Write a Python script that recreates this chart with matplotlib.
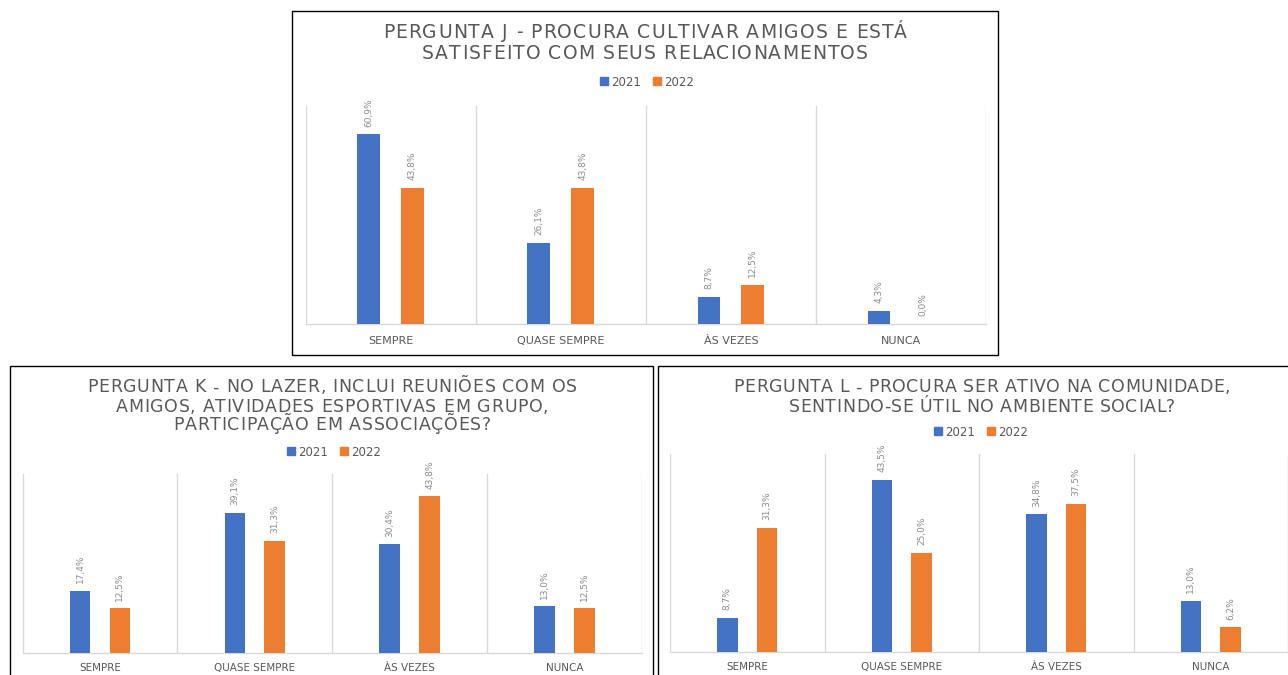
import numpy as np
import matplotlib
matplotlib.use("Agg")
import matplotlib.pyplot as plt
from matplotlib.patches import Rectangle, Patch
from matplotlib.font_manager import FontProperties

plt.rcParams['font.family'] = ['DejaVu Sans']

categories = ["SEMPRE", "QUASE SEMPRE", "ÀS VEZES", "NUNCA"]
series_names = ["2021", "2022"]

j_2021 = [60.9, 26.1, 8.7, 4.3]
j_2022 = [43.8, 43.8, 12.5, 0.0]

k_2021 = [17.4, 39.1, 30.4, 13.0]
k_2022 = [12.5, 31.3, 43.8, 12.5]

l_2021 = [8.7, 43.5, 34.8, 13.0]
l_2022 = [31.3, 25.0, 37.5, 6.2]

title_j = ["PERGUNTA J - PROCURA CULTIVAR AMIGOS E ESTÁ",
           "SATISFEITO COM SEUS RELACIONAMENTOS"]
title_k = ["PERGUNTA K - NO LAZER, INCLUI REUNIÕES COM OS",
           "AMIGOS, ATIVIDADES ESPORTIVAS EM GRUPO,",
           "PARTICIPAÇÃO EM ASSOCIAÇÕES?"]
title_l = ["PERGUNTA L - PROCURA SER ATIVO NA COMUNIDADE,",
           "SENTINDO-SE ÚTIL NO AMBIENTE SOCIAL?"]

BLUE = "#4472C4"
ORANGE = "#ED7D31"
TXT = "#595959"
LBL = "#8c8c8c"
GRID = "#d9d9d9"

W, H = 1288, 675
fig = plt.figure(figsize=(W / 100, H / 100), dpi=100)
renderer = fig.canvas.get_renderer()


def px_axes(x0, y0, x1, y1):
    return fig.add_axes([x0 / W, 1 - y1 / H, (x1 - x0) / W, (y1 - y0) / H])


def frame(x0, y0, x1, y1):
    fig.patches.append(Rectangle((x0 / W, 1 - y1 / H), (x1 - x0) / W, (y1 - y0) / H,
                                 transform=fig.transFigure, fill=False,
                                 edgecolor="black", linewidth=1.0, zorder=0))


def spaced_text(s, cx, cy, size, track):
    """Draw a line of text centred at (cx, cy) pixels with extra letter spacing."""
    prop = FontProperties(size=size)

    def w(t):
        return renderer.get_text_width_height_descent(t, prop, ismath=False)[0]

    w_h = w("H")
    adv_h = w("HH") - w_h
    advances, bearings = [], []
    for c in s:
        advances.append(w("H" + c + "H") - w("HH"))
        bearings.append(0.0 if c == " " else w("H" + c) - adv_h - w(c))
    _, hh, dd = renderer.get_text_width_height_descent("H", prop, ismath=False)
    cap = hh - dd
    total = sum(advances) + track * (len(s) - 1)
    pen = cx - total / 2
    baseline = cy + cap / 2
    for c, a, b in zip(s, advances, bearings):
        if c != " ":
            fig.text((pen + b) / W, 1 - baseline / H, c, ha="left", va="baseline",
                     fontsize=size, color=TXT)
        pen += a + track


def titled(lines, cx, ys, size, track):
    for line, y in zip(lines, ys):
        spaced_text(line, cx, y, size, track)


def chart(ax, v21, v22, ymax, leg_xy, cat_size, pad):
    x = np.arange(len(categories))
    off, bw = 0.129, 0.133
    b1 = ax.bar(x - off, v21, bw, color=BLUE, zorder=3)
    b2 = ax.bar(x + off, v22, bw, color=ORANGE, zorder=3)
    for bars, vals in ((b1, v21), (b2, v22)):
        for rect, v in zip(bars, vals):
            ax.annotate(f"{v:.1f}%".replace(".", ","),
                        (rect.get_x() + rect.get_width() / 2, v),
                        xytext=(0, 5.5), textcoords="offset points",
                        rotation=90, ha="center", va="bottom",
                        fontsize=6.5, color=LBL)
    ax.set_xlim(-0.5, len(categories) - 0.5)
    ax.set_ylim(0, ymax)
    ax.set_yticks([])
    ax.set_xticks(x)
    ax.set_xticklabels(categories, fontsize=cat_size, color=TXT)
    ax.tick_params(axis="x", length=0, pad=pad)
    ax.set_xticks(np.arange(-0.5, len(categories)), minor=True)
    ax.tick_params(axis="x", which="minor", length=0)
    ax.grid(which="minor", axis="x", color=GRID, linewidth=1.0, zorder=0)
    for s in ("top", "left", "right"):
        ax.spines[s].set_visible(False)
    ax.spines["bottom"].set_color(GRID)
    ax.spines["bottom"].set_linewidth(1.0)
    handles = [Patch(color=BLUE, label=series_names[0]),
               Patch(color=ORANGE, label=series_names[1])]
    fig.legend(handles=handles, loc="center", ncol=2, frameon=False,
               bbox_to_anchor=(leg_xy[0] / W, 1 - leg_xy[1] / H),
               fontsize=8.5, handlelength=0.65, handleheight=0.65,
               handletextpad=0.3, columnspacing=1.0, labelcolor=TXT)


# frames around each chart
frame(292, 11, 998, 355)
frame(10, 366, 653, 690)
frame(658, 366, 1300, 690)

# Pergunta J
ax_j = px_axes(305.5, 106, 986, 324)
chart(ax_j, j_2021, j_2022, 70, (647, 82), 8, 8.5)
titled(title_j, 645, [31, 52], 13.5, 1.1)

# Pergunta K
ax_k = px_axes(22.5, 474, 642, 653)
chart(ax_k, k_2021, k_2022, 50, (334, 452), 7.5, 7.5)
titled(title_k, 332, [386, 405, 424], 12.5, 0.7)

# Pergunta L
ax_l = px_axes(670, 454, 1288, 652)
chart(ax_l, l_2021, l_2022, 50, (981, 432), 7.5, 7.5)
titled(title_l, 982, [386, 405], 12.5, 0.5)

fig.savefig("out.png", dpi=100)
